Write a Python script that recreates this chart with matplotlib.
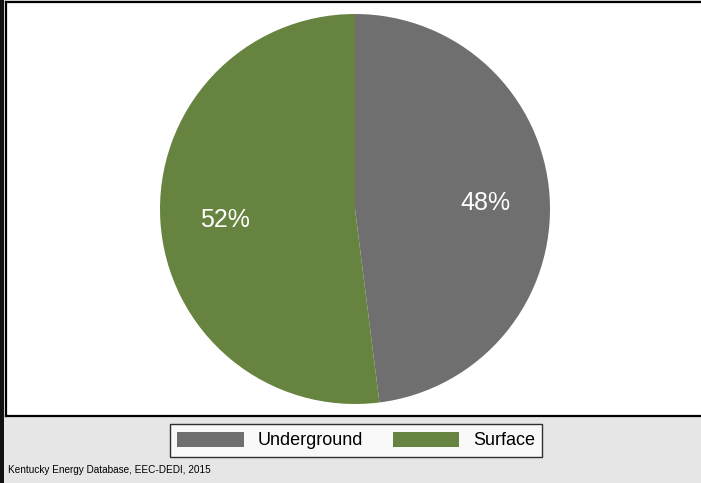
import matplotlib
matplotlib.use("Agg")
import matplotlib.pyplot as plt
from matplotlib.patches import Patch, Rectangle

plt.rcParams['font.family'] = ['Liberation Sans', 'DejaVu Sans']

# Coal production by mining method
categories = ["Underground", "Surface"]
shares = [48, 52]
colors = ["#6f6f6f", "#66843f"]
source_note = "Kentucky Energy Database, EEC-DEDI, 2015"

W, H = 701, 483
fig = plt.figure(figsize=(W / 100, H / 100), dpi=100, facecolor="#e6e6e6")

def box(x0, y0, x1, y1):
    """Pixel box (top-left origin) -> figure fraction rect."""
    return [x0 / W, 1 - y1 / H, (x1 - x0) / W, (y1 - y0) / H]

# dark strip at the left edge
fig.patches.append(Rectangle((0, 0), 4 / W, 1, transform=fig.transFigure,
                             facecolor="#111111", edgecolor="none", zorder=0))

# framed white plot area
frame = fig.add_axes(box(6, 2, 712, 416))
frame.set_facecolor("white")
frame.set_xticks([])
frame.set_yticks([])
for s in frame.spines.values():
    s.set_color("black")
    s.set_linewidth(1.6)

# pie
ax = fig.add_axes(box(160, 14, 550, 404))
ax.set_facecolor("none")
wedges, texts, autotexts = ax.pie(
    shares, colors=colors, startangle=90, counterclock=False,
    autopct="%.0f%%", pctdistance=0.67,
    textprops=dict(color="white", fontsize=18),
    wedgeprops=dict(linewidth=0),
)
for t in autotexts:
    t.set_verticalalignment("center_baseline")
ax.set_xlim(-1, 1)
ax.set_ylim(-1, 1)
ax.set_aspect("equal")
ax.axis("off")

# legend
handles = [Patch(facecolor=c, edgecolor="none", label=l) for c, l in zip(colors, categories)]
leg = fig.legend(handles=handles, loc="center", bbox_to_anchor=(356 / W, 1 - 440.5 / H),
                 ncol=2, frameon=True, fancybox=False, fontsize=13,
                 handlelength=3.7, handleheight=0.95, handletextpad=0.75,
                 columnspacing=1.65, borderpad=0.4, borderaxespad=0)
leg.get_frame().set_edgecolor("black")
leg.get_frame().set_linewidth(1.0)
leg.get_frame().set_facecolor("white")

fig.text(8 / W, 1 - 470 / H, source_note, fontsize=7.2, va="center", ha="left", color="black")

fig.savefig("out.png", dpi=100, facecolor=fig.get_facecolor())
